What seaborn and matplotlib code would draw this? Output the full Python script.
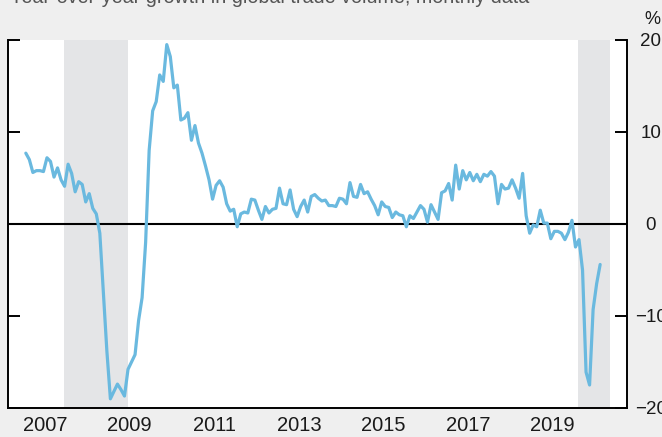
import matplotlib
matplotlib.use("Agg")
import numpy as np
import pandas as pd
import matplotlib.pyplot as plt
import seaborn as sns

# year-over-year growth in global trade volume (%), monthly, Jan 2007 - Aug 2020
growth_2007 = [7.7, 7.0, 5.6, 5.8, 5.8, 5.7, 7.2, 6.8, 5.1, 6.1, 4.8, 4.1]
growth_2008 = [6.5, 5.5, 3.5, 4.6, 4.3, 2.4, 3.3, 1.7, 1.1, -1.0, -7.4, -13.8]
growth_2009 = [-19.0, -18.2, -17.4, -18.0, -18.7, -15.8, -15.0, -14.2, -10.5, -8.0, -2.0, 8.0]
growth_2010 = [12.3, 13.3, 16.2, 15.5, 19.5, 18.2, 14.8, 15.1, 11.3, 11.5, 12.1, 9.1]
growth_2011 = [10.7, 8.8, 7.7, 6.3, 4.8, 2.7, 4.2, 4.7, 4.0, 2.2, 1.4, 1.6]
growth_2012 = [-0.3, 1.1, 1.3, 1.2, 2.7, 2.6, 1.5, 0.5, 1.9, 1.2, 1.6, 1.7]
growth_2013 = [3.9, 2.2, 2.1, 3.7, 1.6, 0.8, 1.9, 2.6, 1.3, 3.0, 3.2, 2.8]
growth_2014 = [2.5, 2.6, 2.0, 2.0, 1.9, 2.8, 2.7, 2.2, 4.5, 3.0, 2.9, 4.3]
growth_2015 = [3.3, 3.5, 2.7, 2.0, 1.0, 2.4, 1.9, 1.8, 0.7, 1.3, 1.0, 0.9]
growth_2016 = [-0.3, 0.9, 0.6, 1.3, 2.0, 1.6, 0.2, 2.1, 1.3, 0.5, 3.4, 3.6]
growth_2017 = [4.4, 2.6, 6.4, 3.8, 5.8, 4.8, 5.6, 4.7, 5.4, 4.6, 5.4, 5.2]
growth_2018 = [5.7, 5.2, 2.2, 4.3, 3.8, 3.9, 4.8, 3.9, 2.8, 5.5, 0.9, -1.0]
growth_2019 = [-0.1, -0.3, 1.5, 0.1, 0.1, -1.6, -0.8, -0.8, -1.0, -1.7, -0.9, 0.4]
growth_2020 = [-2.5, -1.7, -5.0, -16.1, -17.5, -9.3, -6.5, -4.4]

recessions = [(2007.95, 2009.46), (2020.10, 2020.85)]
year_ticks = list(range(2007, 2021))
label_years = [2007, 2009, 2011, 2013, 2015, 2017, 2019]
y_ticks = [20, 10, 0, -10, -20]

values = (growth_2007 + growth_2008 + growth_2009 + growth_2010 + growth_2011 +
          growth_2012 + growth_2013 + growth_2014 + growth_2015 + growth_2016 +
          growth_2017 + growth_2018 + growth_2019 + growth_2020)
df = pd.DataFrame({"growth": values})
df["date"] = 2007 + (np.arange(len(df)) + 0.5) / 12

sns.set_style("white")
plt.rcParams["font.family"] = ["Liberation Sans", "DejaVu Sans"]

fig = plt.figure(figsize=(6.62, 4.37), dpi=100, facecolor="#efefef")
ax = fig.add_axes([8 / 662, 1 - 408 / 437, (627 - 8) / 662, (408 - 40) / 437])
ax.set_facecolor("white")

for start, end in recessions:
    ax.axvspan(start, end, color="#e4e5e7", lw=0, zorder=0)
ax.axhline(0, color="black", lw=1.5, zorder=1)

sns.lineplot(data=df, x="date", y="growth", ax=ax, color="#6ab9df", linewidth=2.3, zorder=2)

ax.set_xlim(2006.62, 2021.26)
ax.set_ylim(-20, 20)
ax.set_xlabel("")
ax.set_ylabel("")

ax.set_xticks(year_ticks)
ax.set_xticklabels([])
ax.set_xticks([y + 0.5 for y in label_years], minor=True)
ax.set_xticklabels([str(y) for y in label_years], minor=True)
ax.tick_params(axis="x", which="major", direction="in", length=8, width=1.4, color="black")
ax.tick_params(axis="x", which="minor", length=0, pad=6, labelsize=14.5, labelcolor="#1a1a1a")

ax.set_yticks(y_ticks)
ax.tick_params(axis="y", direction="in", length=8.5, width=1.4, color="black",
               left=True, right=True, labelleft=False, labelright=True,
               pad=17, labelsize=13.5, labelcolor="#1a1a1a")
for lbl in ax.get_yticklabels():
    lbl.set_horizontalalignment("center")

ax.spines["top"].set_visible(False)
for side in ["left", "right", "bottom"]:
    ax.spines[side].set_color("black")
    ax.spines[side].set_linewidth(1.4)

fig.text(10 / 662, 1 - 3 / 437, "Year-over-year growth in global trade volume, monthly data",
         ha="left", va="baseline", fontsize=14.2, color="#555555")
fig.text(644 / 662, 1 - 24 / 437, "%", ha="left", va="baseline", fontsize=13, color="#1a1a1a")

fig.savefig("out.png", dpi=100, facecolor=fig.get_facecolor())
